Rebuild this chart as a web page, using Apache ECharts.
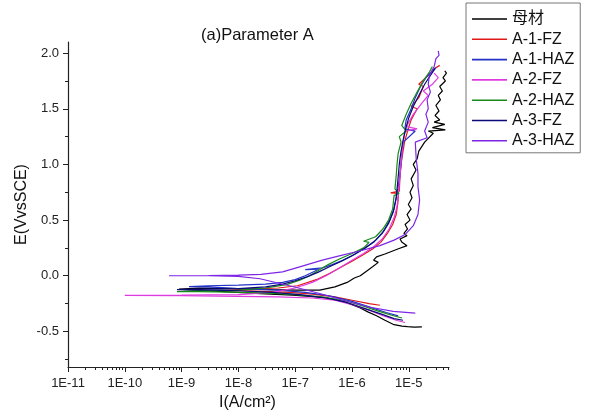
<!DOCTYPE html>
<html>
<head>
<meta charset="utf-8">
<script src="https://cdn.jsdelivr.net/npm/echarts@6/dist/echarts.min.js"></script>
<style>
  html, body { margin: 0; padding: 0; background: #fff; }
  #chart { width: 592px; height: 416px; }
</style>
</head>
<body>
<div id="chart"></div>
<script>
const seriesNames = ['母材', 'A-1-FZ', 'A-1-HAZ', 'A-2-FZ', 'A-2-HAZ', 'A-3-FZ', 'A-3-HAZ'];
const seriesColors = ['#000000', '#e01818', '#2230c8', '#e03be0', '#178a17', '#0a0a78', '#7f26e6'];

// [I (A/cm2), E (V vs SCE)] : cathodic end -> Ecorr -> anodic end
const baseMetal = [
    [1.7e-5, -0.46], [1.25e-5, -0.462], [9.5e-6, -0.458], [7.6e-6, -0.452], [5.5e-6, -0.44],
    [3.8e-6, -0.40], [2.7e-6, -0.36], [1.9e-6, -0.325], [1.4e-6, -0.29], [1e-6, -0.26],
    [7e-7, -0.23], [3.6e-7, -0.20], [1.8e-7, -0.185], [9e-8, -0.175], [2.4e-8, -0.16],
    [4.7e-9, -0.14], [1.2e-9, -0.125], [9e-10, -0.12],
    [2e-9, -0.112], [1e-8, -0.115], [4e-8, -0.125], [1e-7, -0.13], [2.7e-7, -0.13],
    [5e-7, -0.10], [8.2e-7, -0.06], [1.1e-6, -0.02], [1.4e-6, 0.0], [1.9e-6, 0.05],
    [2.3e-6, 0.08], [2.9e-6, 0.12], [2.4e-6, 0.14], [2.7e-6, 0.17], [3.8e-6, 0.195],
    [6.4e-6, 0.24], [9.3e-6, 0.27], [7.6e-6, 0.30], [7e-6, 0.33], [9.3e-6, 0.36],
    [8.2e-6, 0.38], [9.5e-6, 0.42], [8.6e-6, 0.46], [1.05e-5, 0.50], [9.3e-6, 0.55],
    [1.1e-5, 0.6], [9.8e-6, 0.64], [1.14e-5, 0.70], [1.05e-5, 0.75], [1.2e-5, 0.81],
    [1.1e-5, 0.87], [1.34e-5, 0.95], [1.2e-5, 1.0], [1.4e-5, 1.05], [1.5e-5, 1.12],
    [1.9e-5, 1.2], [2.7e-5, 1.28], [2.2e-5, 1.30], [4.4e-5, 1.31], [2.6e-5, 1.33],
    [4.3e-5, 1.36], [2.8e-5, 1.38], [3.5e-5, 1.40], [2.9e-5, 1.44], [3.4e-5, 1.48],
    [3e-5, 1.53], [3.6e-5, 1.58], [3.3e-5, 1.62], [3.9e-5, 1.66], [3.5e-5, 1.70],
    [4.4e-5, 1.75], [4e-5, 1.78], [4.6e-5, 1.82], [4.3e-5, 1.84]
];
const a1FZ = [
    [3.1e-6, -0.265], [2e-6, -0.25], [1e-6, -0.22], [5e-7, -0.19], [2e-7, -0.165],
    [8e-8, -0.15], [3e-8, -0.14], [1.2e-8, -0.135], [6e-9, -0.132],
    [1.5e-8, -0.12], [5e-8, -0.11], [1.1e-7, -0.09], [2.5e-7, -0.03], [4e-7, 0.02],
    [6e-7, 0.07], [1e-6, 0.13], [1.6e-6, 0.19], [2.3e-6, 0.24], [3.2e-6, 0.30],
    [4.2e-6, 0.38], [5.2e-6, 0.46], [6e-6, 0.55], [6.4e-6, 0.65], [6.6e-6, 0.74],
    [4.8e-6, 0.745], [6.8e-6, 0.76], [7e-6, 0.9], [7.3e-6, 1.0], [7.8e-6, 1.1],
    [8.4e-6, 1.2], [9.5e-6, 1.3], [1.1e-5, 1.4], [1.4e-5, 1.5], [1.1e-5, 1.52],
    [1.5e-5, 1.6], [1.8e-5, 1.7], [1.5e-5, 1.72], [2.2e-5, 1.8], [2.8e-5, 1.86], [3.5e-5, 1.89]
];
const a1HAZ = [
    [6.5e-6, -0.36], [4e-6, -0.33], [2e-6, -0.28], [1e-6, -0.23], [4e-7, -0.18],
    [1.5e-7, -0.15], [5e-8, -0.13], [1e-8, -0.115], [3e-9, -0.10], [1.35e-9, -0.097],
    [3e-9, -0.09], [1e-8, -0.085], [3e-8, -0.075], [6e-8, -0.06], [1e-7, -0.035],
    [1.5e-7, 0.0], [2.2e-7, 0.04], [2.6e-7, 0.06], [1.5e-7, 0.055], [3e-7, 0.07],
    [4.5e-7, 0.10], [7e-7, 0.14], [1.1e-6, 0.19], [1.7e-6, 0.25], [2.6e-6, 0.32],
    [3.6e-6, 0.40], [4.6e-6, 0.50], [5.5e-6, 0.6], [6e-6, 0.7], [6.5e-6, 0.8],
    [7e-6, 0.9], [7.3e-6, 1.0], [7.6e-6, 1.1], [8e-6, 1.2], [1.3e-5, 1.3],
    [8.5e-6, 1.32], [9e-6, 1.4], [1.1e-5, 1.5], [1.3e-5, 1.6], [1.6e-5, 1.7],
    [2e-5, 1.78], [2.6e-5, 1.84], [3e-5, 1.87]
];
const a2FZ = [
    [8.6e-6, -0.42], [6e-6, -0.40], [3.5e-6, -0.36], [2e-6, -0.31], [1e-6, -0.26],
    [5e-7, -0.22], [2e-7, -0.2], [5e-8, -0.19], [1e-8, -0.185], [1e-9, -0.18], [1e-10, -0.177],
    [1e-9, -0.175], [1e-8, -0.17], [4e-8, -0.15], [1e-7, -0.11], [2e-7, -0.06],
    [3.5e-7, 0.0], [6e-7, 0.07], [1e-6, 0.14], [1.6e-6, 0.2], [2.4e-6, 0.26],
    [3.4e-6, 0.33], [4.5e-6, 0.42], [5.5e-6, 0.52], [6.2e-6, 0.62], [6.6e-6, 0.75],
    [7e-6, 0.9], [7.4e-6, 1.05], [8e-6, 1.2], [8.6e-6, 1.3], [1.4e-5, 1.32],
    [9e-6, 1.34], [1.2e-5, 1.45], [1.7e-5, 1.55], [2.2e-5, 1.62], [1.8e-5, 1.66],
    [2.6e-5, 1.72], [3.3e-5, 1.78], [2.8e-5, 1.82]
];
const a2HAZ = [
    [7.6e-6, -0.38], [5e-6, -0.355], [3e-6, -0.32], [1.5e-6, -0.27], [7e-7, -0.22],
    [3e-7, -0.19], [1e-7, -0.17], [3e-8, -0.155], [8e-9, -0.148], [2e-9, -0.143], [8.3e-10, -0.142],
    [2e-9, -0.135], [1e-8, -0.13], [3e-8, -0.11], [7e-8, -0.08], [1.2e-7, -0.04],
    [1.8e-7, 0.0], [2.6e-7, 0.05], [3.8e-7, 0.10], [6e-7, 0.15], [1e-6, 0.2],
    [1.6e-6, 0.25], [2e-6, 0.3], [1.6e-6, 0.31], [2.6e-6, 0.35], [3.5e-6, 0.42],
    [4.4e-6, 0.5], [5.2e-6, 0.6], [5.5e-6, 0.72], [6.7e-6, 0.74], [5.7e-6, 0.78],
    [6e-6, 0.9], [6.2e-6, 1.0], [6.5e-6, 1.1], [7.3e-6, 1.2], [6.8e-6, 1.25],
    [9e-6, 1.3], [7.5e-6, 1.35], [9e-6, 1.45], [1.1e-5, 1.55], [1.4e-5, 1.65],
    [1.8e-5, 1.75], [2.3e-5, 1.83], [2.6e-5, 1.88]
];
const a3FZ = [
    [7.9e-6, -0.40], [5.5e-6, -0.385], [3.5e-6, -0.35], [1.8e-6, -0.30], [8e-7, -0.24],
    [3.5e-7, -0.2], [1.2e-7, -0.17], [4e-8, -0.15], [1e-8, -0.135], [2.5e-9, -0.127], [8.3e-10, -0.124],
    [2e-9, -0.12], [1e-8, -0.115], [3e-8, -0.1], [6e-8, -0.075], [1e-7, -0.045],
    [1.6e-7, -0.01], [2.5e-7, 0.03], [4e-7, 0.08], [6.5e-7, 0.13], [1e-6, 0.18],
    [1.6e-6, 0.24], [2.4e-6, 0.3], [3.4e-6, 0.38], [4.4e-6, 0.47], [5.3e-6, 0.57],
    [6e-6, 0.7], [6.4e-6, 0.85], [6.8e-6, 1.0], [7.2e-6, 1.1], [7.8e-6, 1.2],
    [8.6e-6, 1.3], [1e-5, 1.42], [1.2e-5, 1.52], [1.5e-5, 1.62], [1.9e-5, 1.72],
    [2.4e-5, 1.8], [2.9e-5, 1.86]
];
const a3HAZ = [
    [1.3e-5, -0.336], [5.3e-6, -0.32], [2.1e-6, -0.283], [7e-7, -0.22], [2.7e-7, -0.16],
    [9e-8, -0.097], [2.4e-8, -0.027], [1e-8, -0.005], [3e-9, 0.0], [6e-10, 0.0],
    [3e-9, 0.002], [1e-8, 0.005], [2.5e-8, 0.012], [6e-8, 0.035], [1.2e-7, 0.08],
    [3e-7, 0.14], [6.2e-7, 0.18], [1.3e-6, 0.22], [3.1e-6, 0.27], [5.5e-6, 0.32],
    [8.6e-6, 0.37], [1.2e-5, 0.45], [1.45e-5, 0.55], [1.55e-5, 0.68], [1.45e-5, 0.8],
    [1.45e-5, 0.92], [1.35e-5, 1.05], [1.3e-5, 1.2], [2.1e-5, 1.24], [1.9e-5, 1.3],
    [2.2e-5, 1.38], [2e-5, 1.45], [2.2e-5, 1.5], [2.1e-5, 1.58], [2.4e-5, 1.65],
    [2.2e-5, 1.72], [2.3e-5, 1.8], [2.8e-5, 1.88], [3e-5, 1.95], [3.4e-5, 1.98], [3.3e-5, 2.02]
];
const curves = [baseMetal, a1FZ, a1HAZ, a2FZ, a2HAZ, a3FZ, a3HAZ];

const xTickValues = [1e-11, 1e-10, 1e-9, 1e-8, 1e-7, 1e-6, 1e-5];
const xTickLabels = ['1E-11', '1E-10', '1E-9', '1E-8', '1E-7', '1E-6', '1E-5'];
const yTickValues = [-0.5, 0, 0.5, 1, 1.5, 2];
const yTickLabels = ['-0.5', '0.0', '0.5', '1.0', '1.5', '2.0'];
const yMinorTicks = [-0.75, -0.25, 0.25, 0.75, 1.25, 1.75];

const xMin = 1e-11, xMax = 5.1e-5;
const yMin = -0.82, yMax = 2.1;

// minor ticks of the log axis: 2..9 in every decade
const xMinorTicks = [];
xTickValues.forEach(d => {
    for (let m = 2; m <= 9; m++) {
        if (d * m <= xMax) xMinorTicks.push(d * m);
    }
});

const font = '"Liberation Sans", Arial, "Noto Sans CJK SC", sans-serif';
const axisColor = '#222';

const chart = echarts.init(document.getElementById('chart'));

chart.setOption({
    animation: false,
    textStyle: { fontFamily: font },
    title: {
        text: '(a)Parameter A',
        left: 201,
        top: 27,
        padding: 0,
        textStyle: { fontSize: 16.5, fontWeight: 'normal', color: '#111', fontFamily: font }
    },
    legend: {
        orient: 'vertical',
        left: 466,
        top: 3,
        padding: [7, 6, 3, 6],
        icon: 'rect',
        itemWidth: 35,
        itemHeight: 1.6,
        itemGap: 2.3,
        borderColor: '#777',
        borderWidth: 1,
        data: seriesNames,
        textStyle: { fontSize: 16, lineHeight: 18, color: '#111', fontFamily: font }
    },
    grid: { left: 68, right: 143, top: 42, bottom: 49 },
    xAxis: [{
        type: 'log',
        logBase: 10,
        min: xMin,
        max: xMax,
        name: 'I(A/cm²)',
        nameLocation: 'middle',
        nameGap: 26,
        nameTextStyle: { fontSize: 16, color: '#111', fontFamily: font, padding: [0, 22, 0, 0] },
        axisLine: { show: true, onZero: false, lineStyle: { color: axisColor, width: 1.2 } },
        axisTick: { show: true, length: 5, customValues: xTickValues, lineStyle: { color: axisColor } },
        axisLabel: {
            customValues: xTickValues,
            margin: 10,
            fontSize: 13,
            color: '#222',
            formatter: v => xTickLabels[xTickValues.findIndex(t => Math.abs(t - v) / t < 1e-6)] || ''
        },
        splitLine: { show: false }
    }, {
        type: 'log',
        logBase: 10,
        min: xMin,
        max: xMax,
        position: 'bottom',
        axisLine: { show: false, onZero: false },
        axisTick: { show: true, length: 3, customValues: xMinorTicks, lineStyle: { color: axisColor } },
        axisLabel: { show: false },
        splitLine: { show: false }
    }],
    yAxis: [{
        type: 'value',
        min: yMin,
        max: yMax,
        position: 'left',
        name: 'E(VvsSCE)',
        nameLocation: 'middle',
        nameGap: 38,
        nameMoveOverlap: false,
        nameTextStyle: { fontSize: 16, color: '#111', fontFamily: font },
        axisLine: { show: true, onZero: false, lineStyle: { color: axisColor, width: 1.2 } },
        axisTick: { show: true, length: 5, customValues: yTickValues, lineStyle: { color: axisColor } },
        axisLabel: {
            customValues: yTickValues,
            margin: 9,
            fontSize: 13,
            color: '#222',
            formatter: v => yTickLabels[yTickValues.findIndex(t => Math.abs(t - v) < 1e-6)] || ''
        },
        splitLine: { show: false }
    }, {
        type: 'value',
        min: yMin,
        max: yMax,
        position: 'left',
        axisLine: { show: false, onZero: false },
        axisTick: { show: true, length: 3, customValues: yMinorTicks, lineStyle: { color: axisColor } },
        axisLabel: { show: false },
        splitLine: { show: false }
    }],
    series: seriesNames.map((name, i) => ({
        name,
        type: 'line',
        xAxisIndex: 0,
        yAxisIndex: 0,
        data: curves[i],
        symbol: 'none',
        smooth: false,
        color: seriesColors[i],
        lineStyle: { color: seriesColors[i], width: 1.2 }
    }))
});
</script>
</body>
</html>
